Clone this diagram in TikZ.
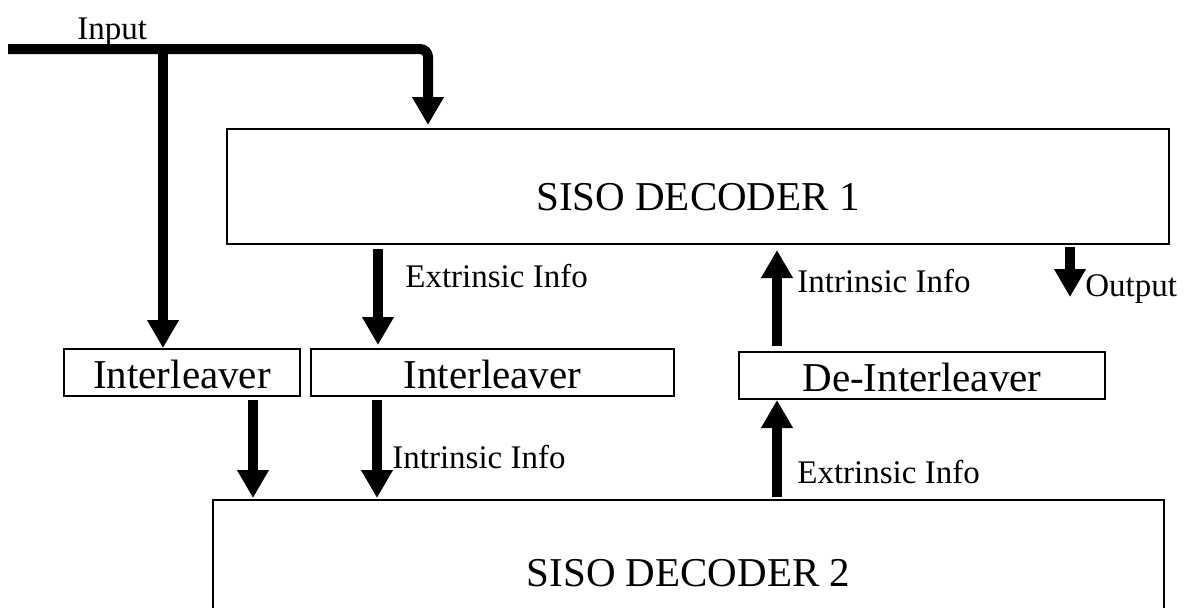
\documentclass[tikz,border=0pt]{standalone}
\usepackage{fontspec}
\setmainfont{Liberation Serif}
\usetikzlibrary{arrows.meta,calc}
\begin{document}
\begin{tikzpicture}[x=0.5pt,y=-0.5pt,
  box/.style={draw, line width=1pt, inner xsep=0pt, inner ysep=0pt, anchor=north west,
              font=\fontsize{20.5}{24}\selectfont},
  smallbox/.style={box, text height=19.5pt, text depth=4pt},
  lbl/.style={inner sep=0pt, anchor=base west, font=\fontsize{16.5}{20}\selectfont},
  arr/.style={line width=5pt, -{Triangle[width=15pt,length=14pt]}}]
\clip (0,0) rectangle (1188,607);
\fill[white] (0,0) rectangle (1188,607);

% boxes
\node[box, minimum width=471pt, text height=40.5pt, text depth=17pt] (dec1) at (226,128) {SISO DECODER 1};
\node[box, minimum width=475.5pt, text height=43pt, text depth=29.5pt] (dec2) at (212,499) {SISO DECODER 2};
\node[smallbox, minimum width=118pt] (int1) at (63,348) {Interleaver};
\node[smallbox, minimum width=181.5pt] (int2) at (310,348) {Interleaver};
\node[smallbox, minimum width=183pt] (deint) at (738,351) {De-Interleaver};

% anchor coordinates for connectors
\coordinate (inL) at (8,49);
\coordinate (x1) at ($(dec1.north west)+(202,0)$);
\coordinate (x2) at ($(int1.north west)+(100,0)$);
\coordinate (x3) at ($(int2.north west)+(68,0)$);
\coordinate (x4) at ($(int1.south west)+(190,0)$);
\coordinate (x5) at ($(int2.south west)+(67,0)$);
\coordinate (x6) at ($(deint.south west)+(39,0)$);
\coordinate (x7) at ($(deint.north west)+(39,0)$);
\coordinate (x8) at ($(dec1.south west)+(844,0)$);
\coordinate (outEnd) at ($(x8)+(0,52)$);

% connectors
\draw[arr, rounded corners=4pt, shorten >=1.5pt] (inL) -| (x1);
\draw[arr] (x2 |- inL) -- (x2);
\draw[arr, shorten <=2pt, shorten >=1.5pt] (x3 |- dec1.south) -- (x3);
\draw[arr, shorten <=1.5pt, shorten >=0.5pt] (x4) -- (x4 |- dec2.north);
\draw[arr, shorten <=1.5pt, shorten >=0.5pt] (x5) -- (x5 |- dec2.north);
\draw[arr, shorten <=1pt] (x6 |- dec2.north) -- (x6);
\draw[arr, shorten <=2.5pt, shorten >=2.5pt] (x7) -- (x7 |- dec1.south);
\draw[arr, shorten <=1pt] (x8) -- (outEnd);

% labels
\node[lbl] (lin) at (77,39) {Input};
\node[lbl] (lext1) at (405,287) {Extrinsic Info};
\node[lbl] (lint1) at (797,292) {Intrinsic Info};
\node[lbl] (lout) at (1085,296) {Output};
\node[lbl] (lint2) at (392,468) {Intrinsic Info};
\node[lbl] (lext2) at (797,483) {Extrinsic Info};
\end{tikzpicture}
\end{document}
